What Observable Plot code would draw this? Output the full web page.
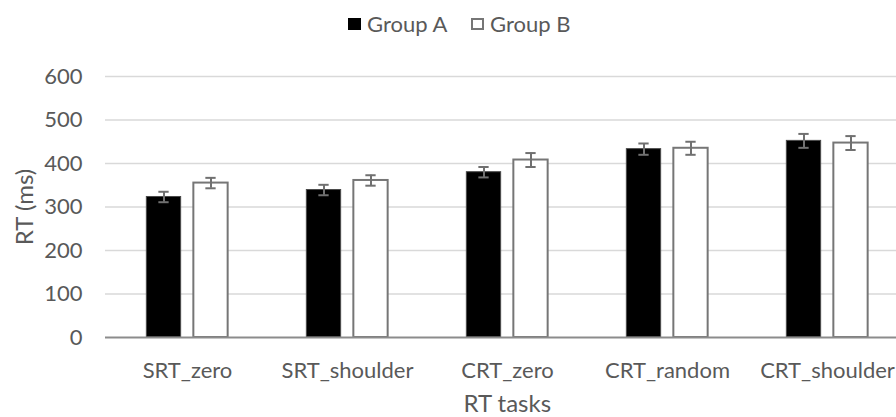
<!DOCTYPE html>
<html>
<head>
<meta charset="utf-8">
<script src="https://cdn.jsdelivr.net/npm/d3@7"></script>
<script src="https://cdn.jsdelivr.net/npm/@observablehq/plot@0.6"></script>
<style>
  html, body { margin: 0; padding: 0; overflow: hidden; background: #fff; }
  #legend { position: relative; height: 50px; width: 896px; font-family: Lato, sans-serif; font-size: 22px; color: #595959; }
  .sw { position: absolute; top: 18px; width: 13px; height: 12px; box-sizing: border-box; }
  .lt { position: absolute; top: 0; line-height: 50px; height: 50px; }
  #chart svg { max-width: none !important; }
</style>
</head>
<body>
<div id="legend"></div>
<div id="chart"></div>
<script>
const tasks = ["SRT_zero", "SRT_shoulder", "CRT_zero", "CRT_random", "CRT_shoulder"];
const groups = ["Group A", "Group B"];
const groupA = [323, 339, 380, 433, 452];
const groupB = [355, 361, 408, 435, 447];
const errA = [12, 12, 12, 13, 16];
const errB = [12, 12, 16, 15, 16];
const yTicks = [0, 100, 200, 300, 400, 500, 600];
const yLabel = "RT (ms)";
const xLabel = "RT tasks";

// legend
const legend = document.getElementById("legend");
legend.innerHTML = `
  <div class="sw" style="left:348px;background:#000;"></div>
  <div class="lt" style="left:367px;top:-1px;">${groups[0]}</div>
  <div class="sw" style="left:471px;background:#fff;border:2px solid #767676;"></div>
  <div class="lt" style="left:490px;top:-1px;">${groups[1]}</div>`;

const rowsA = tasks.map((t, i) => ({task: t, value: groupA[i], err: errA[i]}));
const rowsB = tasks.map((t, i) => ({task: t, value: groupB[i], err: errB[i]}));

const W = 910, H = 367, mL = 105, mR = 1.5;
const band = (W - mL - mR) / tasks.length;
const barW = 35;
const inset = (band - barW) / 2;
const capW = 11;
const capInset = (band - capW) / 2;
const off = 23.5;
const errColor = "#707070";

function errMarks(rows, dx) {
  return [
    Plot.ruleX(rows, {x: "task", y1: d => d.value - d.err, y2: d => d.value + d.err, stroke: errColor, strokeWidth: 2, dx}),
    Plot.tickY(rows, {x: "task", y: d => d.value - d.err, stroke: errColor, strokeWidth: 2, insetLeft: capInset, insetRight: capInset, dx}),
    Plot.tickY(rows, {x: "task", y: d => d.value + d.err, stroke: errColor, strokeWidth: 2, insetLeft: capInset, insetRight: capInset, dx})
  ];
}

const chart = Plot.plot({
  width: W,
  height: H,
  marginLeft: mL,
  marginRight: mR,
  marginTop: 26,
  marginBottom: 80,
  style: {fontFamily: "Lato, sans-serif", fontSize: "22px", color: "#595959", background: "#fff", overflow: "visible", maxWidth: "none"},
  x: {domain: tasks, padding: 0, label: null, tickSize: 0, tickPadding: 25},
  y: {domain: [0, 600], ticks: yTicks, label: null, tickSize: 0, tickPadding: 23},
  marks: [
    Plot.ruleY(yTicks.filter(d => d > 0), {stroke: "#d9d9d9", strokeWidth: 1.3}),
    Plot.barY(rowsA, {x: "task", y: "value", fill: "#000", stroke: "#4a4a4a", strokeWidth: 1, insetLeft: inset, insetRight: inset, dx: -off}),
    Plot.barY(rowsB, {x: "task", y: "value", fill: "#fff", stroke: "#767676", strokeWidth: 2, insetLeft: inset, insetRight: inset, dx: off}),
    Plot.ruleY([0], {stroke: "#8c8c8c", strokeWidth: 2}),
    ...errMarks(rowsA, -off),
    ...errMarks(rowsB, off),
    Plot.text([xLabel], {frameAnchor: "bottom", textAnchor: "middle", lineAnchor: "middle", dy: 66.5, text: d => d, fill: "#595959", fontSize: 24}),
    Plot.text([yLabel], {frameAnchor: "left", textAnchor: "middle", lineAnchor: "middle", rotate: -90, dx: -80, text: d => d, fill: "#595959", fontSize: 24})
  ]
});
document.getElementById("chart").appendChild(chart);
</script>
</body>
</html>
